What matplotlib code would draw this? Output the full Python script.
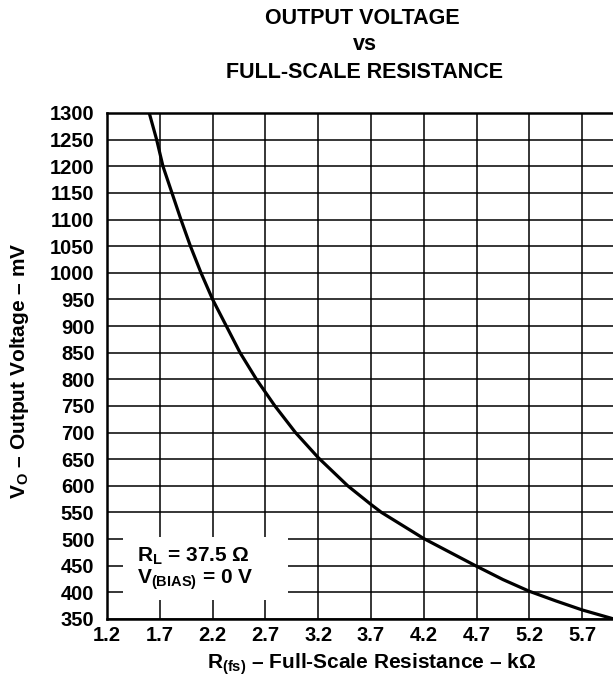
import matplotlib
matplotlib.use("Agg")
import matplotlib.pyplot as plt

plt.rcParams["font.family"] = ["Liberation Sans", "DejaVu Sans"]
plt.rcParams["font.weight"] = "bold"
plt.rcParams["mathtext.fontset"] = "custom"
plt.rcParams["mathtext.rm"] = "Liberation Sans:bold"
plt.rcParams["mathtext.it"] = "Liberation Sans:bold"
plt.rcParams["mathtext.bf"] = "Liberation Sans:bold"

# full-scale resistance (kOhm) vs output voltage (mV)
r_fs = [1.60, 1.67, 1.73, 1.815, 1.90, 1.99, 2.09, 2.20, 2.33, 2.46, 2.615,
        2.79, 2.985, 3.20, 3.48, 3.70, 3.80, 4.20, 4.45, 4.70, 4.95, 5.20,
        5.45, 5.70, 6.00]
v_out = [1300, 1250, 1200, 1150, 1100, 1050, 1000, 950, 900, 850, 800,
         750, 700, 653, 600, 565, 550, 501, 475, 449, 424, 402,
         384, 367, 350]

x_ticks = [1.2, 1.7, 2.2, 2.7, 3.2, 3.7, 4.2, 4.7, 5.2, 5.7]
y_ticks = list(range(350, 1301, 50))

W, H = 613, 688
fig = plt.figure(figsize=(W / 100, H / 100), dpi=100)

# plot area: left edge at 107 px, x=6.2 would sit past the right border
left, right, top, bottom = 107, 635, 113, 619
ax = fig.add_axes([left / W, 1 - bottom / H, (right - left) / W, (bottom - top) / H])

ax.plot(r_fs, v_out, color="black", linewidth=2.3, solid_joinstyle="round",
        solid_capstyle="butt", zorder=4)

ax.set_xlim(1.2, 6.2)
ax.set_ylim(350, 1300)
ax.set_xticks(x_ticks)
ax.set_xticklabels([f"{t:.1f}" for t in x_ticks])
ax.set_yticks(y_ticks)
ax.set_yticklabels([str(t) for t in y_ticks])
ax.tick_params(length=0, labelsize=14.5)
ax.tick_params(axis="y", pad=9)
ax.tick_params(axis="x", pad=5)
for lab in ax.get_xticklabels() + ax.get_yticklabels():
    lab.set_fontweight("bold")

ax.grid(True, color="black", linewidth=1.1)
ax.set_axisbelow(True)
for side in ("left", "bottom", "top"):
    ax.spines[side].set_linewidth(1.8)
ax.spines["right"].set_visible(False)

# white panel for the test conditions
box_l, box_r = (123 - left) / (right - left), (288 - left) / (right - left)
box_b, box_t = (bottom - 600) / (bottom - top), (bottom - 537) / (bottom - top)
ax.add_patch(plt.Rectangle((box_l, box_b), box_r - box_l, box_t - box_b,
                           transform=ax.transAxes, facecolor="white",
                           edgecolor="none", zorder=3))
ax.text((137 - left) / (right - left), (bottom - 556) / (bottom - top),
        "$\\mathrm{R_L}$ = 37.5 Ω", transform=ax.transAxes,
        fontsize=15, fontweight="bold", va="center", ha="left", zorder=5)
ax.text((137 - left) / (right - left), (bottom - 580) / (bottom - top),
        "$\\mathrm{V_{(BIAS)}}$ = 0 V", transform=ax.transAxes,
        fontsize=15, fontweight="bold", va="center", ha="left", zorder=5)

fig.text(362 / W, 1 - 18 / H, "OUTPUT VOLTAGE", ha="center", va="center",
         fontsize=15.5, fontweight="bold")
fig.text(365 / W, 1 - 45 / H, "vs", ha="center", va="center",
         fontsize=15.5, fontweight="bold")
fig.text(365 / W, 1 - 73 / H, "FULL-SCALE RESISTANCE", ha="center", va="center",
         fontsize=15.5, fontweight="bold")

fig.text(372 / W, 1 - 664 / H, "$\\mathrm{R_{(fs)}}$ – Full-Scale Resistance – kΩ",
         ha="center", va="center", fontsize=15, fontweight="bold")
fig.text(20 / W, 1 - 371 / H, "$\\mathrm{V_O}$ – Output Voltage – mV",
         ha="center", va="center", rotation=90, fontsize=15, fontweight="bold")

fig.savefig("out.png", dpi=100)
